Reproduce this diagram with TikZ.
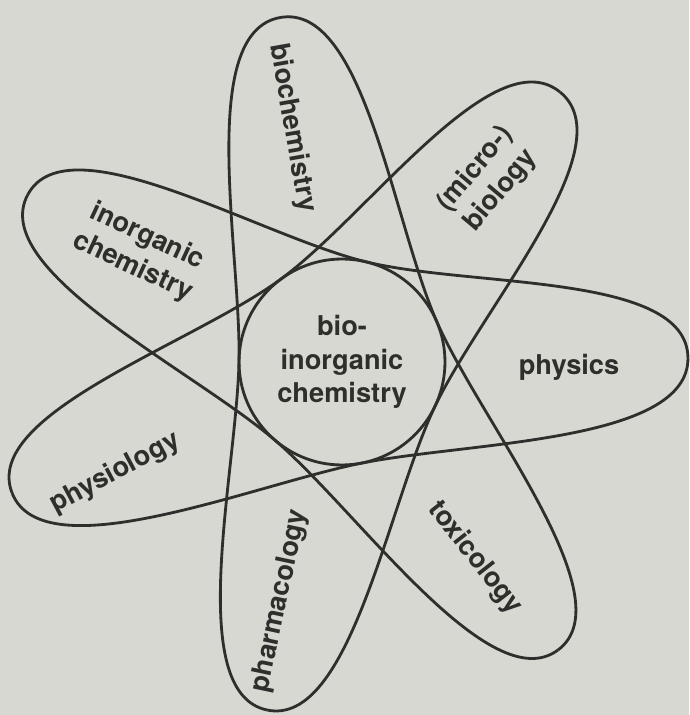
\documentclass[tikz,border=0pt]{standalone}
\usepackage{fontspec}
\setmainfont{TeX Gyre Heros}
\usetikzlibrary{positioning, calc}
\definecolor{paper}{RGB}{216,216,210}
\definecolor{ink}{RGB}{46,46,44}

\begin{document}
\begin{tikzpicture}[x=0.02cm, y=0.02cm,
  orbit/.style={draw=ink, line width=1.6pt},
  field/.style={text=ink, font=\fontsize{15.5}{19}\selectfont\bfseries, align=center, inner sep=1pt}]
  \fill[paper] (-342,-353) rectangle (347,362);
  \useasboundingbox (-342,-353) rectangle (347,362);

  % one star line, seven loops: each edge runs from a tip to the tip three further on
  \foreach \a/\ra/\b/\rb in {0.7/346/152/356, 152/356/306.9/360, 306.9/360/460.2/350,
      100.2/350/257.8/356, 257.8/356/411.1/347, 51.1/347/201.7/355, 201.7/355/360.7/346} {
    \pgfmathsetmacro{\m}{(\a+\b)/2}
    \draw[orbit] (\a:\ra) .. controls ($(\a:\ra)+(\a+90:85)$) and ($(\m:103)+(\m-90:110)$) .. (\m:103)
      .. controls ($(\m:103)+(\m+90:110)$) and ($(\b:\rb)+(\b-90:85)$) .. (\b:\rb);
  }

  \node[draw=ink, line width=1.6pt, circle, minimum size=4.12cm, field] (core) at (0,0) {bio-\\inorganic\\chemistry};

  \node[field, rotate=-80] (biochem) at (-50,234) {biochemistry};
  \node[field, rotate=50] (microbio) at (146,182) {(micro-)\\biology};
  \node[field, rotate=-25] (inorg) at (-202,110) {inorganic\\chemistry};
  \node[field] (physics) at (227,-5) {physics};
  \node[field, rotate=28] (physio) at (-227,-111) {physiology};
  \node[field, rotate=78] (pharma) at (-62,-239) {pharmacology};
  \node[field, rotate=-52] (toxic) at (133,-196) {toxicology};
\end{tikzpicture}
\end{document}
